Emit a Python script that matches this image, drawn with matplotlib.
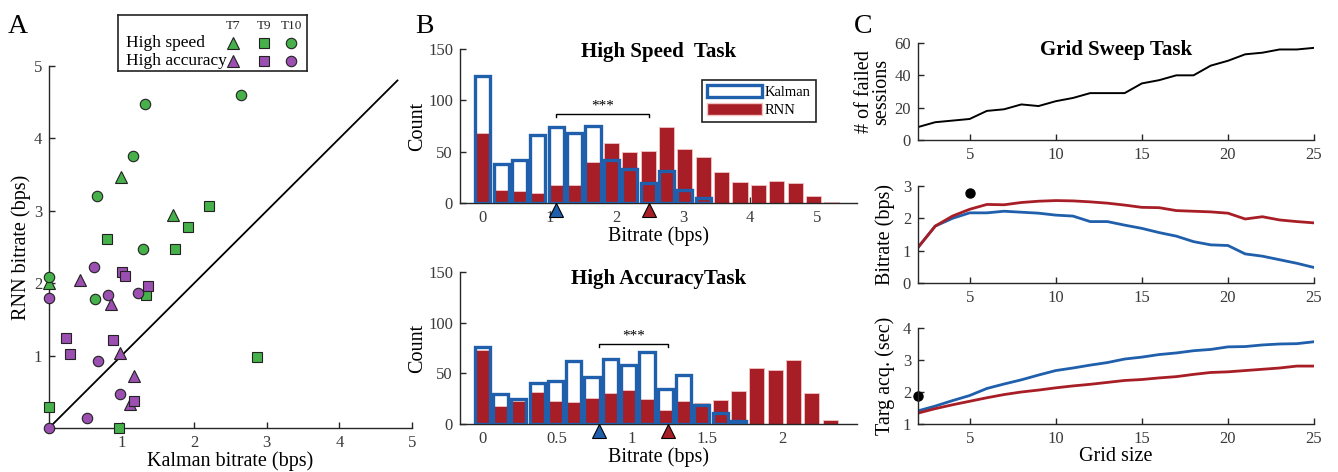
import numpy as np
import matplotlib
matplotlib.use('Agg')
import matplotlib.pyplot as plt
from matplotlib.patches import Patch
from matplotlib.ticker import FormatStrFormatter

plt.rcParams['font.family'] = ['Liberation Serif', 'DejaVu Serif']
plt.rcParams['axes.linewidth'] = 1.0
plt.rcParams['xtick.direction'] = 'in'
plt.rcParams['ytick.direction'] = 'in'

GREEN = '#46b04a'
PURPLE = '#9b4fb0'
BLUE = '#1f5fab'
RED = '#a81e27'
AXC = '#262626'

# ---- panel A data: (Kalman, RNN) bitrate per session
speed_t7 = [(0.99, 3.47), (1.71, 2.94), (0.0, 2.0)]
speed_t9 = [(2.2, 3.07), (1.91, 2.77), (0.8, 2.61), (1.74, 2.47), (1.33, 1.84),
            (0.0, 0.29), (0.97, 0.0), (2.87, 0.98)]
speed_t10 = [(1.32, 4.48), (2.65, 4.6), (1.16, 3.76), (0.66, 3.2), (1.3, 2.47),
             (0.0, 2.08), (0.64, 1.78)]
acc_t7 = [(0.43, 2.04), (0.85, 1.71), (0.98, 1.04), (1.17, 0.72), (1.11, 0.33)]
acc_t9 = [(1.01, 2.15), (1.05, 2.1), (1.37, 1.96), (0.23, 1.24), (0.29, 1.02),
          (0.88, 1.21), (1.17, 0.37)]
acc_t10 = [(0.62, 2.22), (0.0, 1.79), (0.81, 1.84), (1.23, 1.86), (0.68, 0.92),
           (0.98, 0.47), (0.52, 0.14), (0.0, 0.0)]
diag_end = 4.8

# ---- panel B data: histogram counts
speed_bin = 0.275
speed_kalman = [124, 38, 42, 66, 74, 68, 75, 42, 33, 19, 31, 13, 5, 0, 0, 0, 0, 0, 0, 0]
speed_rnn = [68, 13, 12, 10, 18, 18, 40, 58, 50, 51, 74, 53, 45, 30, 20, 18, 21, 19, 7, 1]
speed_medians = [1.1, 2.49]

acc_bin = 0.1222
acc_kalman = [76, 30, 25, 40, 42, 62, 46, 64, 58, 71, 35, 48, 19, 11, 3, 0, 0, 0, 0, 0]
acc_rnn = [73, 18, 23, 32, 23, 22, 26, 31, 34, 25, 14, 23, 21, 24, 33, 55, 53, 63, 31, 4]
acc_medians = [0.78, 1.24]

# ---- panel C data
grid = list(range(2, 26))
failed = [8, 11, 12, 13, 18, 19, 22, 21, 24, 26, 29, 29, 29, 35, 37, 40, 40, 46,
          49, 53, 54, 56, 56, 57]
bitrate_rnn = [1.1, 1.76, 2.07, 2.28, 2.43, 2.42, 2.49, 2.53, 2.55, 2.54, 2.51, 2.47,
               2.41, 2.34, 2.33, 2.24, 2.22, 2.2, 2.16, 1.98, 2.05, 1.95, 1.9, 1.86]
bitrate_kal = [1.1, 1.76, 2.0, 2.17, 2.17, 2.22, 2.19, 2.16, 2.1, 2.07, 1.9, 1.9,
               1.79, 1.69, 1.56, 1.45, 1.28, 1.18, 1.16, 0.9, 0.83, 0.72, 0.61, 0.48]
acq_kal = [1.41, 1.56, 1.73, 1.89, 2.11, 2.25, 2.38, 2.53, 2.67, 2.75, 2.84, 2.92,
           3.03, 3.09, 3.17, 3.22, 3.29, 3.33, 3.41, 3.42, 3.47, 3.5, 3.51, 3.57]
acq_rnn = [1.34, 1.48, 1.6, 1.71, 1.82, 1.92, 2.0, 2.06, 2.13, 2.19, 2.24, 2.3,
           2.36, 2.39, 2.44, 2.48, 2.55, 2.61, 2.63, 2.67, 2.71, 2.75, 2.81, 2.81]
ref_bitrate = (5, 2.79)
ref_acq = (2, 1.86)

fig = plt.figure(figsize=(13.38, 4.72), dpi=100)


def style(ax):
    for s in ['top', 'right']:
        ax.spines[s].set_visible(False)
    for s in ['left', 'bottom']:
        ax.spines[s].set_color(AXC)
    ax.tick_params(colors=AXC, labelcolor='#3a3a3a', labelsize=12, length=4, width=1, pad=5)
    ax.xaxis.set_major_formatter(FormatStrFormatter('%g'))


# ================= A
axA = fig.add_axes([0.0366, 0.0932, 0.2713, 0.767])
style(axA)
axA.plot([0, diag_end], [0, diag_end], color='black', lw=1.3)
groups = [(speed_t7, GREEN, '^', 8), (speed_t9, GREEN, 's', 6.5), (speed_t10, GREEN, 'o', 7.5),
          (acc_t7, PURPLE, '^', 8), (acc_t9, PURPLE, 's', 6.5), (acc_t10, PURPLE, 'o', 7.5)]
for pts, col, mk, ms in groups:
    xs = [p[0] for p in pts]
    ys = [p[1] for p in pts]
    axA.plot(xs, ys, ls='none', marker=mk, ms=ms, mfc=col, mec='#222222', mew=0.8,
             clip_on=False, zorder=3)
axA.set_xlim(0, 5)
axA.set_ylim(0, 5)
axA.set_xticks([1, 2, 3, 4, 5])
axA.set_yticks([1, 2, 3, 4, 5])
axA.set_xlabel('Kalman bitrate (bps)', fontsize=14.5, labelpad=0)
axA.set_ylabel('RNN bitrate (bps)', fontsize=14.5, labelpad=2)

# legend box for A
lg = fig.add_axes([0.0882, 0.8496, 0.1413, 0.1186])
lg.set_xlim(0, 1)
lg.set_ylim(0, 1)
lg.set_xticks([])
lg.set_yticks([])
for s in lg.spines.values():
    s.set_color('#222222')
    s.set_linewidth(1.2)
cols_x = [0.61, 0.77, 0.915]
for cx, name in zip(cols_x, ['T7', 'T9', 'T10']):
    lg.text(cx, 0.8, name, ha='center', va='center', fontsize=9.5, color=AXC)
lg.text(0.04, 0.5, 'High speed', ha='left', va='center', fontsize=12.5)
lg.text(0.04, 0.18, 'High accuracy', ha='left', va='center', fontsize=12.5)
for row_y, col in [(0.5, GREEN), (0.18, PURPLE)]:
    for cx, (mk, ms) in zip(cols_x, [('^', 8), ('s', 6.5), ('o', 7.5)]):
        lg.plot([cx], [row_y], marker=mk, ms=ms, mfc=col, mec='#222222', mew=0.8)


# ================= B
def hist_panel(rect, kal, rnn, binw, xlim, xticks, meds, title, title_y, yb):
    ax = fig.add_axes(rect)
    style(ax)
    centers = np.arange(len(kal)) * binw
    w = binw * 0.82
    ax.bar(centers, rnn, width=w, color=RED, edgecolor='#f2c4c4', lw=0.6, zorder=2)
    kc = [c for c, k in zip(centers, kal) if k > 0]
    kv = [k for k in kal if k > 0]
    ax.bar(kc, kv, width=w, facecolor='none', edgecolor=BLUE, lw=2.4, zorder=3)
    ax.set_xlim(*xlim)
    ax.set_ylim(0, 150)
    ax.set_xticks(xticks)
    ax.set_yticks([0, 50, 100, 150])
    ax.text(0.5, title_y, title, transform=ax.transAxes, ha='center', va='center',
            fontsize=15, fontweight='bold')
    ax.set_ylabel('Count', fontsize=14.5, labelpad=1)
    ax.set_xlabel('Bitrate (bps)', fontsize=14.5, labelpad=0)
    m0, m1 = meds
    ax.plot([m0, m0, m1, m1], [yb - 3, yb, yb, yb - 3], color='black', lw=1, zorder=4)
    ax.text((m0 + m1) / 2, yb + 1, '***', ha='center', va='bottom', fontsize=11)
    ax.plot([m0], [-7], marker='^', ms=10, mfc=BLUE, mec='black', mew=0.8, clip_on=False, zorder=5)
    ax.plot([m1], [-7], marker='^', ms=10, mfc=RED, mec='black', mew=0.8, clip_on=False, zorder=5)
    return ax


axB1 = hist_panel([0.3438, 0.5699, 0.2967, 0.3263], speed_kalman, speed_rnn, speed_bin,
                  (-0.34, 5.6), [0, 1, 2, 3, 4, 5], speed_medians, 'High Speed  Task', 0.98, 87)
axB1.legend(handles=[Patch(facecolor='white', edgecolor=BLUE, lw=2.4, label='Kalman'),
                     Patch(facecolor=RED, edgecolor='#f2c4c4', label='RNN')],
            loc='upper right', bbox_to_anchor=(0.915, 0.845), fontsize=10.5,
            handlelength=3.8, handleheight=0.9, handletextpad=0.2, borderpad=0.35,
            labelspacing=0.25, fancybox=False, edgecolor='#222222', framealpha=1)
axB1.get_legend().get_frame().set_linewidth(1.2)
axB2 = hist_panel([0.3438, 0.1017, 0.2967, 0.322], acc_kalman, acc_rnn, acc_bin,
                  (-0.147, 2.5), [0, 0.5, 1, 1.5, 2], acc_medians, 'High AccuracyTask', 0.955, 79)

# ================= C
axC1 = fig.add_axes([0.6861, 0.7034, 0.296, 0.2055])
style(axC1)
axC1.plot(grid, failed, color='black', lw=1.4)
axC1.set_xlim(2, 25)
axC1.set_ylim(0, 60)
axC1.set_xticks([5, 10, 15, 20, 25])
axC1.set_yticks([0, 20, 40, 60])
axC1.text(0.5, 0.93, 'Grid Sweep Task', transform=axC1.transAxes, ha='center', va='center',
          fontsize=15, fontweight='bold')
axC1.set_ylabel('# of failed\nsessions', fontsize=14.5, linespacing=0.85)
axC1.yaxis.set_label_coords(-0.068, 0.5)

axC2 = fig.add_axes([0.6861, 0.4004, 0.296, 0.2055])
style(axC2)
axC2.plot(grid, bitrate_kal, color=BLUE, lw=2)
axC2.plot(grid, bitrate_rnn, color=RED, lw=2)
axC2.plot([ref_bitrate[0]], [ref_bitrate[1]], 'o', color='black', ms=6.5, clip_on=False)
axC2.set_xlim(2, 25)
axC2.set_ylim(0, 3)
axC2.set_xticks([5, 10, 15, 20, 25])
axC2.set_yticks([0, 1, 2, 3])
axC2.set_ylabel('Bitrate (bps)', fontsize=14.5)
axC2.yaxis.set_label_coords(-0.058, 0.5)

axC3 = fig.add_axes([0.6861, 0.1017, 0.296, 0.2034])
style(axC3)
axC3.plot(grid, acq_kal, color=BLUE, lw=2)
axC3.plot(grid, acq_rnn, color=RED, lw=2)
axC3.plot([ref_acq[0]], [ref_acq[1]], 'o', color='black', ms=6.5, clip_on=False)
axC3.set_xlim(2, 25)
axC3.set_ylim(1, 4)
axC3.set_xticks([5, 10, 15, 20, 25])
axC3.set_yticks([1, 2, 3, 4])
axC3.set_ylabel('Targ acq. (sec)', fontsize=14.5)
axC3.yaxis.set_label_coords(-0.058, 0.5)
axC3.set_xlabel('Grid size', fontsize=14.5, labelpad=0)

# panel letters
fig.text(0.006, 0.93, 'A', fontsize=20)
fig.text(0.310, 0.93, 'B', fontsize=20)
fig.text(0.638, 0.93, 'C', fontsize=20)

fig.savefig('out.png', dpi=100)
